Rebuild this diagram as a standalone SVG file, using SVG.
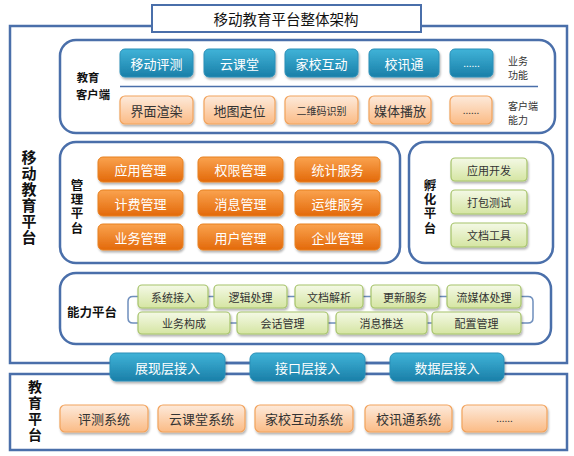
<svg xmlns="http://www.w3.org/2000/svg" width="574" height="456" viewBox="0 0 574 456">
<defs>
<linearGradient id="gBlue" x1="0" y1="0" x2="0" y2="1"><stop offset="0" stop-color="#40b3d8"/><stop offset="1" stop-color="#1a7fa8"/></linearGradient>
<linearGradient id="gOrL" x1="0" y1="0" x2="0" y2="1"><stop offset="0" stop-color="#fdeadb"/><stop offset="1" stop-color="#fbbb85"/></linearGradient>
<linearGradient id="gOrD" x1="0" y1="0" x2="0" y2="1"><stop offset="0" stop-color="#faa34f"/><stop offset="1" stop-color="#e3690a"/></linearGradient>
<linearGradient id="gGr" x1="0" y1="0" x2="0" y2="1"><stop offset="0" stop-color="#f4f9e6"/><stop offset="1" stop-color="#d5e5a2"/></linearGradient>
<filter id="sh" x="-10%" y="-20%" width="130%" height="150%"><feDropShadow dx="1" dy="2" stdDeviation="1.2" flood-color="#000" flood-opacity="0.3"/></filter>
</defs>
<style>
.frame{fill:#fff;stroke:#4a6faa;stroke-width:2.5}
.sec{fill:#fff;stroke:#4a6faa;stroke-width:2.5}
.blue{fill:url(#gBlue);stroke:#2a8fb8;stroke-width:1;filter:url(#sh)}
.orl{fill:url(#gOrL);stroke:#f2a35c;stroke-width:1.2;filter:url(#sh)}
.ord{fill:url(#gOrD);stroke:#e8801f;stroke-width:1;filter:url(#sh)}
.gr{fill:url(#gGr);stroke:#a6c36a;stroke-width:1.2;filter:url(#sh)}
text{font-family:"Noto Sans CJK SC","Liberation Sans",sans-serif;text-anchor:middle;dominant-baseline:central}
.tw{fill:#fff;font-size:13px}
.tk{fill:#333;font-size:13px}
.tg{fill:#333;font-size:11px}
.lbl{fill:#111;font-size:12.5px;font-weight:bold}
.vt{writing-mode:vertical-rl}
.sm{fill:#333;font-size:10px}
.conn{fill:none;stroke:#6f8fbd;stroke-width:1.5}
</style>

<g id="main-frame"><rect class="frame" x="10" y="26" width="557" height="337"/>
<text class="lbl vt" style="font-size:15px;letter-spacing:1px" x="29" y="197.5">移动教育平台</text></g>

<g id="title"><rect x="152" y="5" width="269" height="27" fill="#fff" stroke="#4a6faa" stroke-width="2"/><text x="286" y="18.5" style="font-size:14.5px;fill:#111">移动教育平台整体架构</text></g>

<g id="client"><rect class="sec" x="60" y="40" width="495" height="93" rx="16"/>
<text class="lbl" style="font-size:11.3px" x="88" y="77">教育</text>
<text class="lbl" style="font-size:11.3px" x="93" y="93.5">客户端</text>
<line x1="120" y1="86.5" x2="538" y2="86.5" stroke="#4a6faa" stroke-width="1.3"/>
<text class="sm" x="518" y="60">业务</text><text class="sm" x="518" y="74.5">功能</text>
<text class="sm" x="523" y="105">客户端</text><text class="sm" x="518" y="119.5">能力</text>
<g id="c1"><rect class="blue" x="120" y="49" width="73" height="28" rx="5"/><text class="tw" x="156.5" y="63">移动评测</text></g>
<g id="c2"><rect class="blue" x="204" y="49" width="71" height="28" rx="5"/><text class="tw" x="239.5" y="63">云课堂</text></g>
<g id="c3"><rect class="blue" x="285" y="49" width="73" height="28" rx="5"/><text class="tw" x="321.5" y="63">家校互动</text></g>
<g id="c4"><rect class="blue" x="369" y="49" width="70" height="28" rx="5"/><text class="tw" x="404" y="63">校讯通</text></g>
<g id="c5"><rect class="blue" x="450" y="49" width="43" height="28" rx="5"/><text class="tw" x="471.5" y="62" style="font-size:10px">......</text></g>
<g id="c6"><rect class="orl" x="120" y="96" width="73" height="28" rx="5"/><text class="tk" x="156.5" y="110">界面渲染</text></g>
<g id="c7"><rect class="orl" x="204" y="96" width="71" height="28" rx="5"/><text class="tk" x="239.5" y="110">地图定位</text></g>
<g id="c8"><rect class="orl" x="285" y="96" width="73" height="28" rx="5"/><text class="tk" x="321.5" y="110" style="font-size:10px">二维码识别</text></g>
<g id="c9"><rect class="orl" x="369" y="96" width="62" height="28" rx="5"/><text class="tk" x="400" y="110">媒体播放</text></g>
<g id="c10"><rect class="orl" x="450" y="96" width="42" height="28" rx="5"/><text class="tk" x="471" y="109" style="font-size:10px">......</text></g>
</g>

<g id="mgmt"><rect class="sec" x="60" y="142" width="340" height="121" rx="16"/>
<text class="lbl vt" style="letter-spacing:1.8px" x="77" y="207.5">管理平台</text>
<g id="m1"><rect class="ord" x="98" y="157" width="85" height="25" rx="5"/><text class="tw" x="140.5" y="169.5">应用管理</text></g>
<g id="m2"><rect class="ord" x="198" y="157" width="85" height="25" rx="5"/><text class="tw" x="240.5" y="169.5">权限管理</text></g>
<g id="m3"><rect class="ord" x="295" y="157" width="85" height="25" rx="5"/><text class="tw" x="337.5" y="169.5">统计服务</text></g>
<g id="m4"><rect class="ord" x="98" y="190" width="85" height="26" rx="5"/><text class="tw" x="140.5" y="203">计费管理</text></g>
<g id="m5"><rect class="ord" x="198" y="190" width="85" height="26" rx="5"/><text class="tw" x="240.5" y="203">消息管理</text></g>
<g id="m6"><rect class="ord" x="295" y="190" width="85" height="26" rx="5"/><text class="tw" x="337.5" y="203">运维服务</text></g>
<g id="m7"><rect class="ord" x="98" y="224" width="85" height="26" rx="5"/><text class="tw" x="140.5" y="237">业务管理</text></g>
<g id="m8"><rect class="ord" x="198" y="224" width="85" height="26" rx="5"/><text class="tw" x="240.5" y="237">用户管理</text></g>
<g id="m9"><rect class="ord" x="295" y="224" width="85" height="26" rx="5"/><text class="tw" x="337.5" y="237">企业管理</text></g>
</g>

<g id="incub"><rect class="sec" x="409" y="142" width="144" height="121" rx="16"/>
<text class="lbl vt" style="letter-spacing:1.8px" x="430" y="207.5">孵化平台</text>
<g id="i1"><rect class="gr" x="451" y="158" width="76" height="23" rx="4"/><text class="tg" x="489" y="169.5">应用开发</text></g>
<g id="i2"><rect class="gr" x="451" y="190" width="76" height="24" rx="4"/><text class="tg" x="489" y="202">打包测试</text></g>
<g id="i3"><rect class="gr" x="451" y="223" width="76" height="24" rx="4"/><text class="tg" x="489" y="235">文档工具</text></g>
</g>

<g id="cap"><rect class="sec" x="60" y="273" width="491" height="71" rx="16"/>
<text class="lbl" x="92" y="311">能力平台</text>
</g>

<g id="connectors">
<path class="conn" d="M138 296.5 H133 Q128 296.5 128 301.5 V318 Q128 323 133 323 H138"/>
<path class="conn" d="M521 296.5 H528 Q533 296.5 533 301.5 V318 Q533 323 528 323 H521"/>
<path class="conn" d="M208 296.5 H214 M287 296.5 H295 M363 296.5 H371 M439 296.5 H447"/>
<path class="conn" d="M230 323 H237 M328 323 H336 M427 323 H432"/>
<path d="M225 363 H250 M365 363 H390 M225 374 H250 M365 374 H390" stroke="#4a6faa" stroke-width="2.5" fill="none"/>
</g>

<g id="cap-items">
<g id="p1"><rect class="gr" x="138" y="285" width="70" height="23" rx="4"/><text class="tg" x="173" y="296.5">系统接入</text></g>
<g id="p2"><rect class="gr" x="214" y="285" width="73" height="23" rx="4"/><text class="tg" x="250.5" y="296.5">逻辑处理</text></g>
<g id="p3"><rect class="gr" x="295" y="285" width="68" height="23" rx="4"/><text class="tg" x="329" y="296.5">文档解析</text></g>
<g id="p4"><rect class="gr" x="371" y="285" width="68" height="23" rx="4"/><text class="tg" x="405" y="296.5">更新服务</text></g>
<g id="p5"><rect class="gr" x="447" y="285" width="74" height="23" rx="4"/><text class="tg" x="484" y="296.5">流媒体处理</text></g>
<g id="p6"><rect class="gr" x="138" y="312" width="92" height="22" rx="4"/><text class="tg" x="184" y="323">业务构成</text></g>
<g id="p7"><rect class="gr" x="237" y="312" width="91" height="22" rx="4"/><text class="tg" x="282.5" y="323">会话管理</text></g>
<g id="p8"><rect class="gr" x="336" y="312" width="91" height="22" rx="4"/><text class="tg" x="381.5" y="323">消息推送</text></g>
<g id="p9"><rect class="gr" x="432" y="312" width="89" height="22" rx="4"/><text class="tg" x="476.5" y="323">配置管理</text></g>
</g>

<g id="edu"><rect class="frame" x="10" y="374" width="557" height="76"/>
<text class="lbl vt" style="font-size:14px;letter-spacing:2px" x="35" y="412">教育平台</text>
<g id="e1"><rect class="orl" x="60" y="405" width="88" height="27" rx="5"/><text class="tk" x="104" y="418.5">评测系统</text></g>
<g id="e2"><rect class="orl" x="158" y="405" width="87" height="27" rx="5"/><text class="tk" x="201.5" y="418.5">云课堂系统</text></g>
<g id="e3"><rect class="orl" x="255" y="405" width="98" height="27" rx="5"/><text class="tk" x="304" y="418.5">家校互动系统</text></g>
<g id="e4"><rect class="orl" x="365" y="405" width="87" height="27" rx="5"/><text class="tk" x="408.5" y="418.5">校讯通系统</text></g>
<g id="e5"><rect class="orl" x="462" y="405" width="85" height="27" rx="5"/><text class="tk" x="504.5" y="417.5" style="font-size:10px">......</text></g>
</g>

<g id="layers">
<g id="l1"><rect class="blue" x="110" y="353" width="115" height="28" rx="6"/><text class="tw" x="167.5" y="367">展现层接入</text></g>
<g id="l2"><rect class="blue" x="250" y="353" width="115" height="28" rx="6"/><text class="tw" x="307.5" y="367">接口层接入</text></g>
<g id="l3"><rect class="blue" x="390" y="353" width="114" height="28" rx="6"/><text class="tw" x="447" y="367">数据层接入</text></g>
</g>
</svg>
